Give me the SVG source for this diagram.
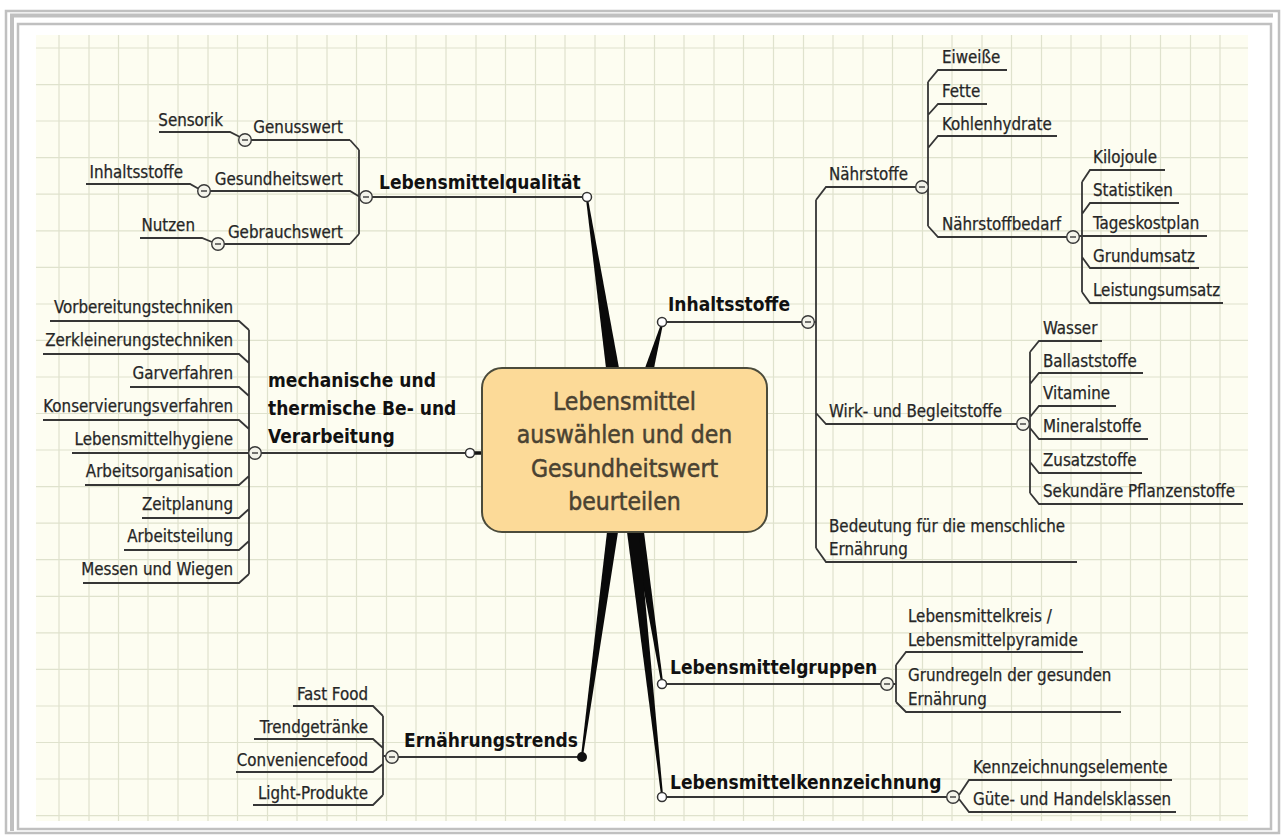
<svg xmlns="http://www.w3.org/2000/svg" width="1281" height="835" viewBox="0 0 1281 835">
<style>
.ln{fill:none;stroke:#363636;stroke-width:1.8}
.wd{fill:#0a0a0a;stroke:none}
.t{font-family:'DejaVu Sans Condensed','DejaVu Sans',sans-serif;font-stretch:condensed;font-size:16.8px;fill:#262626;stroke:#262626;stroke-width:0.25}
.e{text-anchor:end}
.h{font-size:19px;font-weight:bold;fill:#111;stroke:none}
.ct{font-family:'DejaVu Sans Condensed','DejaVu Sans',sans-serif;font-stretch:condensed;font-size:24.5px;fill:#4a4232;stroke:#4a4232;stroke-width:0.5;text-anchor:middle}
.ep{fill:#fff;stroke:#333;stroke-width:1.5}
.grid{fill:none;stroke:#dfe2cd;stroke-width:1.2}
.fr{fill:none;stroke:#c0c0c0}
</style>
<defs>
<g id="tog"><circle r="6.3" fill="#f3f3ea" stroke="#383838" stroke-width="1.4"/><line x1="-3" y1="0" x2="3" y2="0" stroke="#383838" stroke-width="1.4"/></g>
</defs>
<rect width="1281" height="835" fill="#fff"/>
<g id="frame">
<rect class="fr" x="6" y="11" width="1273" height="822" stroke-width="2.5"/>
<path class="fr" d="M12 831V15.5H1273" stroke-width="4"/>
<rect class="fr" x="18" y="24" width="1253" height="805" stroke-width="2.5"/>
</g>
<rect x="36" y="35" width="1212" height="786" fill="#fdfdf1"/>
<path class="grid" d="M59 35V821M89 35V821M118.5 35V821M148 35V821M178 35V821M208 35V821M237.5 35V821M267.5 35V821M297 35V821M327 35V821M356.5 35V821M386.5 35V821M416 35V821M446 35V821M476 35V821M505.5 35V821M535.5 35V821M565 35V821M595 35V821M624.5 35V821M654.5 35V821M684 35V821M714 35V821M743.5 35V821M773.5 35V821M803.5 35V821M833 35V821M863 35V821M892.5 35V821M922.5 35V821M952 35V821M982 35V821M1011.5 35V821M1041.5 35V821M1071 35V821M1101 35V821M1130.5 35V821M1160.5 35V821M1190.5 35V821M1220 35V821M36 48H1248M36 84.6H1248M36 121H1248M36 157.7H1248M36 194.2H1248M36 230.8H1248M36 267.3H1248M36 304H1248M36 340.4H1248M36 377H1248M36 413.5H1248M36 450H1248M36 486.6H1248M36 523.2H1248M36 559.7H1248M36 596.3H1248M36 632.8H1248M36 669.4H1248M36 706H1248M36 742.5H1248M36 779H1248M36 815.6H1248"/>

<g id="connectors">
<path class="wd" d="M606 368L619 368L588 199L586 199Z"/>
<path class="wd" d="M645 368L654 368L663 324L661 324Z"/>
<path class="wd" d="M607 532L618 532L583 756L581 756Z"/>
<path class="wd" d="M633 532L644 532L663 682L661 682Z"/>
<path class="wd" d="M627 532L639 532L663 795L661 795Z"/>
<path d="M470 453H483" stroke="#111" stroke-width="3.5"/>
<path class="ln" d="M366 197H587"/>
<path class="ln" d="M359 150V234M350 140L359 150M350 244L359 234M210 191H350L360 197M251 140H350"/>
<path class="ln" d="M159 132H230L240 137M86 184H190L199 189M224 244H350M140 238H202L212 242"/>
<path class="ln" d="M261 453H466"/>
<path class="ln" d="M249 330V574M50 321H239L249 330M43 354H239L249 363M130 387H239L249 396M43 420H239L249 429M72 453H250M85 485H239L249 476M142 518H239L249 509M124 550H239L249 541M83 583H239L249 574"/>
<path class="ln" d="M398 757H582"/>
<path class="ln" d="M383 716V795M383 756H386M293 706H373L383 716M254 739H373L383 748M236 772H373L383 764M253 805H373L383 795"/>
<path class="ln" d="M662 322H802M814 322H816M816 200V548M816 200L826 187H916M816 413L826 424H1017M816 548L826 562H1077"/>
<path class="ln" d="M928 82V226M928 82L938 70H1007M928 115L938 104H987M928 148L938 136H1057M928 226L938 237H1067"/>
<path class="ln" d="M1082 182V292M1082 182L1090 170H1165M1082 214L1090 203H1179M1079 236H1207M1082 257L1090 268H1199M1082 292L1090 303H1223"/>
<path class="ln" d="M1030 352V493M1030 352L1039 341H1102M1030 384L1039 373H1143M1030 417L1039 406H1116M1030 428L1039 439H1148M1030 462L1039 473H1142M1030 493L1039 504H1243"/>
<path class="ln" d="M662 684H881M893 684H896M896 665V702M896 665L906 652H1083M896 702L906 712H1121"/>
<path class="ln" d="M662 797H947M959 795L969 780H1172M959 799L969 812H1176"/>
<circle class="ep" cx="587" cy="197" r="4.5"/>
<circle class="ep" cx="662" cy="322" r="4.5"/>
<circle class="ep" cx="470" cy="453" r="4.5"/>
<circle class="ep" cx="662" cy="684" r="4.5"/>
<circle class="ep" cx="662" cy="797" r="4.5"/>
<circle cx="582" cy="757" r="5" fill="#111"/>
</g>

<g id="center">
<rect x="482" y="368" width="285" height="164" rx="20" fill="#fcda98" stroke="#4b4b3b" stroke-width="2"/>
<text class="ct" x="624.5" y="410">Lebensmittel</text>
<text class="ct" x="624.5" y="443.3">auswählen und den</text>
<text class="ct" x="624.5" y="476.6">Gesundheitswert</text>
<text class="ct" x="624.5" y="510">beurteilen</text>
</g>

<g id="n-qualitaet">
<text class="t h" x="379" y="189">Lebensmittelqualität</text>
<use href="#tog" x="366" y="197"/>
</g>
<g id="n-genusswert"><text class="t e" x="343" y="133">Genusswert</text><use href="#tog" x="245" y="140"/></g>
<g id="n-sensorik"><text class="t e" x="223" y="126">Sensorik</text></g>
<g id="n-gesundheitswert"><text class="t e" x="343" y="185">Gesundheitswert</text><use href="#tog" x="204" y="191"/></g>
<g id="n-inhaltsstoffe-q"><text class="t e" x="183" y="178">Inhaltsstoffe</text></g>
<g id="n-gebrauchswert"><text class="t e" x="343" y="238">Gebrauchswert</text><use href="#tog" x="218" y="244"/></g>
<g id="n-nutzen"><text class="t e" x="195" y="231">Nutzen</text></g>

<g id="n-mechanische">
<text class="t h" x="268" y="387">mechanische und</text>
<text class="t h" x="268" y="415">thermische Be- und</text>
<text class="t h" x="268" y="443">Verarbeitung</text>
<use href="#tog" x="255" y="453"/>
</g>
<g id="n-mech-leaves">
<text class="t e" x="233" y="313">Vorbereitungstechniken</text>
<text class="t e" x="233" y="346">Zerkleinerungstechniken</text>
<text class="t e" x="233" y="379">Garverfahren</text>
<text class="t e" x="233" y="412">Konservierungsverfahren</text>
<text class="t e" x="233" y="445">Lebensmittelhygiene</text>
<text class="t e" x="233" y="477">Arbeitsorganisation</text>
<text class="t e" x="233" y="510">Zeitplanung</text>
<text class="t e" x="233" y="542">Arbeitsteilung</text>
<text class="t e" x="233" y="575">Messen und Wiegen</text>
</g>

<g id="n-trends">
<text class="t h" x="404" y="747">Ernährungstrends</text>
<use href="#tog" x="392" y="757"/>
</g>
<g id="n-trends-leaves">
<text class="t e" x="368" y="700">Fast Food</text>
<text class="t e" x="368" y="733">Trendgetränke</text>
<text class="t e" x="368" y="766">Conveniencefood</text>
<text class="t e" x="368" y="799">Light-Produkte</text>
</g>

<g id="n-inhaltsstoffe">
<text class="t h" x="668" y="311">Inhaltsstoffe</text>
<use href="#tog" x="808" y="322"/>
</g>
<g id="n-naehrstoffe"><text class="t" x="829" y="180">Nährstoffe</text><use href="#tog" x="922" y="187"/></g>
<g id="n-naehrstoffe-leaves">
<text class="t" x="942" y="63">Eiweiße</text>
<text class="t" x="942" y="97">Fette</text>
<text class="t" x="942" y="130">Kohlenhydrate</text>
</g>
<g id="n-bedarf"><text class="t" x="942" y="230">Nährstoffbedarf</text><use href="#tog" x="1073" y="237"/></g>
<g id="n-bedarf-leaves">
<text class="t" x="1093" y="163">Kilojoule</text>
<text class="t" x="1093" y="196">Statistiken</text>
<text class="t" x="1093" y="229">Tageskostplan</text>
<text class="t" x="1093" y="262">Grundumsatz</text>
<text class="t" x="1093" y="296">Leistungsumsatz</text>
</g>
<g id="n-wirk"><text class="t" x="829" y="417">Wirk- und Begleitstoffe</text><use href="#tog" x="1023" y="424"/></g>
<g id="n-wirk-leaves">
<text class="t" x="1043" y="334">Wasser</text>
<text class="t" x="1043" y="367">Ballaststoffe</text>
<text class="t" x="1043" y="399">Vitamine</text>
<text class="t" x="1043" y="432">Mineralstoffe</text>
<text class="t" x="1043" y="466">Zusatzstoffe</text>
<text class="t" x="1043" y="497">Sekundäre Pflanzenstoffe</text>
</g>
<g id="n-bedeutung">
<text class="t" x="829" y="532">Bedeutung für die menschliche</text>
<text class="t" x="829" y="555">Ernährung</text>
</g>

<g id="n-gruppen">
<text class="t h" x="670" y="674">Lebensmittelgruppen</text>
<use href="#tog" x="887" y="684"/>
</g>
<g id="n-gruppen-leaves">
<text class="t" x="908" y="622">Lebensmittelkreis /</text>
<text class="t" x="908" y="646">Lebensmittelpyramide</text>
<text class="t" x="908" y="681">Grundregeln der gesunden</text>
<text class="t" x="908" y="705">Ernährung</text>
</g>

<g id="n-kennzeichnung">
<text class="t h" x="670" y="789">Lebensmittelkennzeichnung</text>
<use href="#tog" x="953" y="797"/>
</g>
<g id="n-kennz-leaves">
<text class="t" x="973" y="773">Kennzeichnungselemente</text>
<text class="t" x="973" y="805">Güte- und Handelsklassen</text>
</g>
</svg>
